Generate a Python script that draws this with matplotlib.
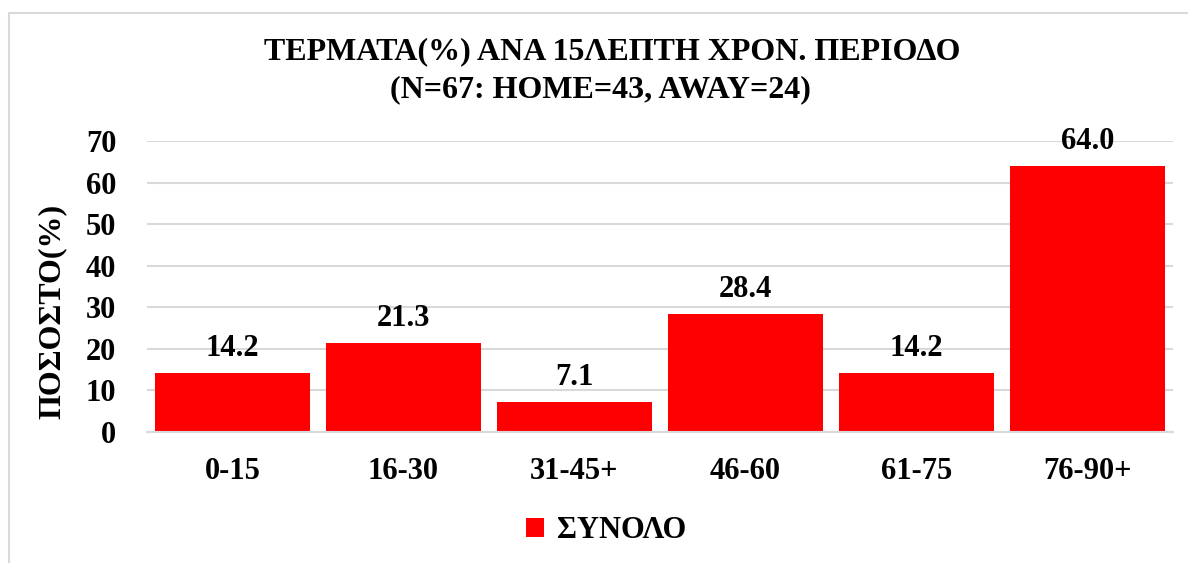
import matplotlib.pyplot as plt
from matplotlib.patches import Rectangle

periods = ['0-15', '16-30', '31-45+', '46-60', '61-75', '76-90+']
values = [14.2, 21.3, 7.1, 28.4, 14.2, 64.0]
yticks = [0, 10, 20, 30, 40, 50, 60, 70]

plt.rcParams['font.family'] = ['Liberation Serif', 'DejaVu Serif']
plt.rcParams['font.weight'] = 'bold'

fig = plt.figure(figsize=(11.88, 5.63), dpi=100)
ax = fig.add_axes([147/1188, 1 - 432/563, (1173-147)/1188, (432-141)/563])

# chart border like Excel
fig.patches.append(Rectangle((9/1188, -0.05), 1.2, 1 - 13/563 + 0.05, transform=fig.transFigure,
                             fill=False, edgecolor='#d9d9d9', linewidth=1.5))

rects = ax.bar(range(len(periods)), values, width=0.906, color='#ff0000', label='ΣΥΝΟΛΟ', zorder=2)

for r, v in zip(rects, values):
    ax.text(r.get_x() + r.get_width()/2, v + 2.5, '%.1f' % v,
            ha='center', va='bottom', fontsize=22, fontweight='bold')

ax.set_xlim(-0.5, len(periods) - 0.5)
ax.set_ylim(0, 70)
ax.set_yticks(yticks)
ax.set_xticks(range(len(periods)))
ax.set_xticklabels(periods)
ax.tick_params(axis='both', length=0, labelsize=22)
ax.tick_params(axis='x', pad=18)
ax.tick_params(axis='y', pad=22)
ax.yaxis.grid(True, color='#d9d9d9', linewidth=1.5, zorder=0)
ax.set_axisbelow(True)
for s in ['top', 'right', 'left']:
    ax.spines[s].set_visible(False)
ax.spines['bottom'].set_color('#d9d9d9')
ax.spines['bottom'].set_linewidth(1.5)

fig.text(52/1188, 1 - 311/563, 'ΠΟΣΟΣΤΟ(%)', rotation=90, ha='center', va='center',
         fontsize=23, fontweight='bold')

fig.text(0.515, 1 - 52/563, 'ΤΕΡΜΑΤΑ(%) ΑΝΑ 15ΛΕΠΤΗ ΧΡΟΝ. ΠΕΡΙΟΔΟ', ha='center', va='center',
         fontsize=23, fontweight='bold')
fig.text(0.505, 1 - 90/563, '(N=67: HOME=43, AWAY=24)', ha='center', va='center',
         fontsize=23, fontweight='bold')

fig.legend(handles=[rects], labels=['ΣΥΝΟΛΟ'], loc='center', bbox_to_anchor=(0.51, 1 - 531/563),
           frameon=False, fontsize=22, handlelength=0.6, handleheight=0.6, handletextpad=0.4)

fig.savefig('out.png', dpi=100)
